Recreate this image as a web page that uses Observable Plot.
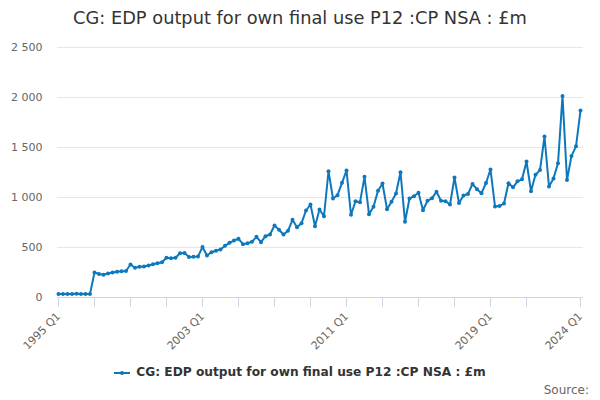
<!DOCTYPE html>
<html>
<head>
<meta charset="utf-8">
<script src="https://cdn.jsdelivr.net/npm/d3@7"></script>
<script src="https://cdn.jsdelivr.net/npm/@observablehq/plot@0.6"></script>
<style>
  body { margin: 0; background: #fff; font-family: "DejaVu Sans", sans-serif; }
  #wrap { position: relative; width: 600px; height: 400px; overflow: hidden; }
  #title { position: absolute; left: 0; top: 7px; width: 600px; text-align: center; font-size: 17.8px; color: #333; }
  #legend { position: absolute; left: 0; top: 365px; width: 600px; text-align: center; font-size: 12.2px; font-weight: bold; color: #333; }
  #legend svg { vertical-align: middle; margin-right: 4px; }
  #source { position: absolute; right: 11px; top: 383px; font-size: 12px; color: #666; }
  #chart { position: absolute; left: 0; top: 0; }
</style>
</head>
<body>
<div id="wrap">
  <div id="chart"></div>
  <div id="title"></div>
  <div id="legend"></div>
  <div id="source">Source:</div>
</div>
<script>
const title = "CG: EDP output for own final use P12 :CP NSA : £m";
const seriesName = "CG: EDP output for own final use P12 :CP NSA : £m";
const startYear = 1995;
const values = [
  35, 36, 36, 35, 37, 36, 35, 36,
  250, 235, 228, 240, 250, 258, 263, 265,
  330, 298, 307, 310, 320, 333, 343, 353,
  397, 392, 397, 443, 446, 405, 407, 410,
  505, 420, 453, 467, 480, 517, 547, 570,
  587, 533, 543, 557, 607, 553, 613, 630,
  720, 677, 630, 667, 777, 703, 743, 870,
  930, 712, 880, 813, 1263, 990, 1023, 1147,
  1270, 827, 963, 953, 1207, 833, 907, 1067,
  1140, 883, 957, 1040, 1253, 757, 990, 1013,
  1047, 873, 967, 993, 1057, 967, 962, 930,
  1200, 944, 1020, 1036, 1135, 1083, 1043, 1145,
  1280, 911, 914, 940, 1142, 1102, 1162, 1182,
  1360, 1063, 1228, 1274, 1610, 1109, 1191, 1343,
  2016, 1175, 1416, 1512, 1871
];
const quarters = values.map((_, i) => `${startYear + Math.floor(i / 4)} Q${(i % 4) + 1}`);
const yTicks = [0, 500, 1000, 1500, 2000, 2500];
const minorTicks = [0, 8, 16, 24, 32, 40, 48, 56, 64, 72, 80, 88, 96, 104, 116];
const labelTicks = [0, 32, 64, 96, 116];

const color = "#0f78bd";
const data = values.map((v, i) => ({i, v}));
const fmt = d => d3.format(",")(d).replace(/,/g, " ");

const chart = Plot.plot({
  width: 600,
  height: 400,
  marginLeft: 57,
  marginRight: 17,
  marginTop: 47,
  marginBottom: 103,
  style: {fontFamily: "DejaVu Sans, sans-serif", background: "transparent"},
  x: {type: "linear", domain: [0, 116], range: [58, 580], label: null},
  y: {domain: [0, 2500], range: [297, 47], label: null},
  marks: [
    Plot.ruleY(yTicks.slice(1), {stroke: "#e6e6e6", strokeWidth: 1}),
    Plot.ruleY([0], {stroke: "#ccd6eb", strokeWidth: 1}),
    Plot.axisX(minorTicks, {tickSize: 10, tickFormat: () => "", stroke: "#ccd6eb", strokeOpacity: 1, label: null}),
    Plot.axisX(labelTicks, {tickSize: 0, tickPadding: 17, tickRotate: -45, tickFormat: i => quarters[i], fill: "#666", fontSize: 11, label: null}),
    Plot.axisY(yTicks, {tickSize: 0, tickPadding: 15, tickFormat: fmt, fill: "#666", fontSize: 11, label: null}),
    Plot.line(data, {x: "i", y: "v", stroke: color, strokeWidth: 2}),
    Plot.dot(data, {x: "i", y: "v", r: 2, fill: color, stroke: "none"})
  ]
});
document.getElementById("chart").appendChild(chart);
document.getElementById("title").textContent = title;
document.getElementById("legend").innerHTML =
  `<svg width="18" height="10"><line x1="0" y1="5" x2="16" y2="5" stroke="${color}" stroke-width="2"/><circle cx="8" cy="5" r="2" fill="${color}"/></svg>` +
  `<span></span>`;
document.querySelector("#legend span").textContent = seriesName;
</script>
</body>
</html>
